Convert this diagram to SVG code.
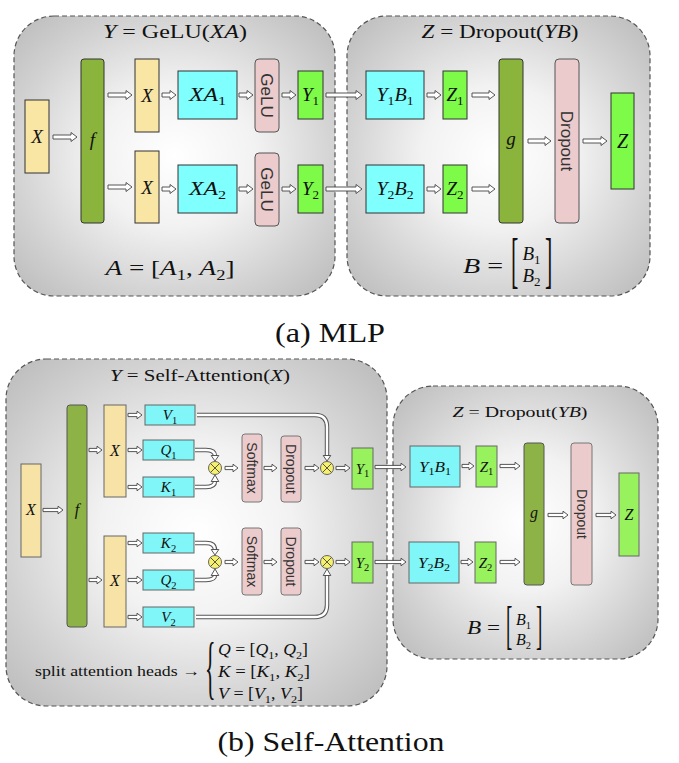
<svg xmlns="http://www.w3.org/2000/svg" width="679" height="763" viewBox="0 0 679 763" font-family="Liberation Serif, serif">
<defs>
<radialGradient id="bg" cx="0.5" cy="0.5" r="0.72">
<stop offset="0" stop-color="#ffffff"/>
<stop offset="0.35" stop-color="#f2f2f2"/>
<stop offset="0.7" stop-color="#d2d2d2"/>
<stop offset="1" stop-color="#b8b8b8"/>
</radialGradient>
<style>
.panel{fill:url(#bg);stroke:#555;stroke-width:1.2;stroke-dasharray:5 3}
.be{fill:#F9E5A4;stroke:#333;stroke-width:1}
.ol{fill:#8AB43B;stroke:#333;stroke-width:1}
.cy{fill:#80FFFF;stroke:#333;stroke-width:1}
.pk{fill:#EBCBCB;stroke:#555;stroke-width:1}
.lm{fill:#7DFB48;stroke:#333;stroke-width:1}
.be2{fill:#F7E3A6;stroke:#666;stroke-width:1}
.ol2{fill:#8DB347;stroke:#555;stroke-width:1}
.cy2{fill:#80F6F8;stroke:#666;stroke-width:1}
.pk2{fill:#EBCBCB;stroke:#777;stroke-width:1}
.lm2{fill:#98F25E;stroke:#666;stroke-width:1}
.arr{fill:#fff;stroke:#444;stroke-width:0.9}
.dl{fill:none;stroke:#555;stroke-width:4.4}
.dw{fill:none;stroke:#fff;stroke-width:2.4}
.ot{fill:#F6F06A;stroke:#666;stroke-width:1}
.ox{stroke:#555;stroke-width:1}
.t{font-family:'Liberation Serif',serif;fill:#111}
.i{font-style:italic}
.s{font-family:'Liberation Sans',sans-serif;fill:#333}
.sb{font-size:13px;font-style:normal}
.sb2{font-size:10.5px;font-style:normal}
</style>
</defs>

<g id="panels">
<rect class="panel" x="14" y="16" width="321" height="280" rx="40"/>
<rect class="panel" x="347" y="16" width="303" height="280" rx="40"/>
<rect class="panel" x="6" y="359" width="381" height="347" rx="40"/>
<rect class="panel" x="393" y="386" width="265" height="273" rx="40"/>
</g>

<g id="connectors">
<path class="arr" d="M53 135 H71 V132.5 L77 137 L71 141.5 V139 H53 Z"/>
<path class="arr" d="M108 93 H126 V90.5 L132 95 L126 99.5 V97 H108 Z"/>
<path class="arr" d="M108 185 H126 V182.5 L132 187 L126 191.5 V189 H108 Z"/>
<path class="arr" d="M162 93 H170 V90.5 L176 95 L170 99.5 V97 H162 Z"/>
<path class="arr" d="M162 187 H170 V184.5 L176 189 L170 193.5 V191 H162 Z"/>
<path class="arr" d="M239 93 H247 V90.5 L253 95 L247 99.5 V97 H239 Z"/>
<path class="arr" d="M239 187 H247 V184.5 L253 189 L247 193.5 V191 H239 Z"/>
<path class="arr" d="M282 93 H290 V90.5 L296 95 L290 99.5 V97 H282 Z"/>
<path class="arr" d="M282 187 H290 V184.5 L296 189 L290 193.5 V191 H282 Z"/>
<path class="arr" d="M326 93 H356 V90.5 L362 95 L356 99.5 V97 H326 Z"/>
<path class="arr" d="M326 187 H356 V184.5 L362 189 L356 193.5 V191 H326 Z"/>
<path class="arr" d="M427 93 H435 V90.5 L441 95 L435 99.5 V97 H427 Z"/>
<path class="arr" d="M427 187 H435 V184.5 L441 189 L435 193.5 V191 H427 Z"/>
<path class="arr" d="M472 93 H489 V90.5 L495 95 L489 99.5 V97 H472 Z"/>
<path class="arr" d="M472 187 H489 V184.5 L495 189 L489 193.5 V191 H472 Z"/>
<path class="arr" d="M528 139 H545 V136.5 L551 141 L545 145.5 V143 H528 Z"/>
<path class="arr" d="M583 139 H601 V136.5 L607 141 L601 145.5 V143 H583 Z"/>

<path class="arr" d="M43 508.4 H58 V506.2 L63 510 L58 513.8 V511.6 H43 Z"/>
<path class="arr" d="M89 448.4 H97 V446.2 L102 450 L97 453.8 V451.6 H89 Z"/>
<path class="arr" d="M89 578.4 H97 V576.2 L102 580 L97 583.8 V581.6 H89 Z"/>
<path class="arr" d="M128 413.4 H137 V411.2 L142 415 L137 418.8 V416.6 H128 Z"/>
<path class="arr" d="M128 448.4 H137 V446.2 L142 450 L137 453.8 V451.6 H128 Z"/>
<path class="arr" d="M128 485.4 H137 V483.2 L142 487 L137 490.8 V488.6 H128 Z"/>
<path class="arr" d="M128 541.4 H137 V539.2 L142 543 L137 546.8 V544.6 H128 Z"/>
<path class="arr" d="M128 578.4 H137 V576.2 L142 580 L137 583.8 V581.6 H128 Z"/>
<path class="arr" d="M128 615.4 H137 V613.2 L142 617 L137 620.8 V618.6 H128 Z"/>
<path class="arr" d="M225 466.4 H233 V464.2 L238 468 L233 471.8 V469.6 H225 Z"/>
<path class="arr" d="M225 560.4 H233 V558.2 L238 562 L233 565.8 V563.6 H225 Z"/>
<path class="arr" d="M264 466.4 H272 V464.2 L277 468 L272 471.8 V469.6 H264 Z"/>
<path class="arr" d="M264 560.4 H272 V558.2 L277 562 L272 565.8 V563.6 H264 Z"/>
<path class="arr" d="M305 466.4 H314 V464.2 L319 468 L314 471.8 V469.6 H305 Z"/>
<path class="arr" d="M305 560.4 H314 V558.2 L319 562 L314 565.8 V563.6 H305 Z"/>
<path class="arr" d="M336 466.4 H345 V464.2 L350 468 L345 471.8 V469.6 H336 Z"/>
<path class="arr" d="M336 560.4 H345 V558.2 L350 562 L345 565.8 V563.6 H336 Z"/>
<path class="arr" d="M375 465.4 H401 V463.2 L406 467 L401 470.8 V468.6 H375 Z"/>
<path class="arr" d="M375 560.4 H401 V558.2 L406 562 L401 565.8 V563.6 H375 Z"/>
<path class="arr" d="M462 464.4 H469 V462.2 L474 466 L469 469.8 V467.6 H462 Z"/>
<path class="arr" d="M461 560.4 H468 V558.2 L473 562 L468 565.8 V563.6 H461 Z"/>
<path class="arr" d="M500 464.4 H515 V462.2 L520 466 L515 469.8 V467.6 H500 Z"/>
<path class="arr" d="M500 560.4 H515 V558.2 L520 562 L515 565.8 V563.6 H500 Z"/>
<path class="arr" d="M548 513.4 H563 V511.2 L568 515 L563 518.8 V516.6 H548 Z"/>
<path class="arr" d="M596 513.4 H611 V511.2 L616 515 L611 518.8 V516.6 H596 Z"/>

<path class="dl" d="M195 450 H206 Q215 450 215 456"/>
<path class="dw" d="M195 450 H206 Q215 450 215 456"/>
<path class="dl" d="M195 487 H206 Q215 487 215 481"/>
<path class="dw" d="M195 487 H206 Q215 487 215 481"/>
<path class="dl" d="M195 543 H206 Q215 543 215 550"/>
<path class="dw" d="M195 543 H206 Q215 543 215 550"/>
<path class="dl" d="M195 580 H206 Q215 580 215 575"/>
<path class="dw" d="M195 580 H206 Q215 580 215 575"/>
<path class="dl" d="M197 415 H315 Q327 415 327 427 V456"/>
<path class="dw" d="M197 415 H315 Q327 415 327 427 V456"/>
<path class="dl" d="M196 617 H315 Q327 617 327 605 V575"/>
<path class="dw" d="M196 617 H315 Q327 617 327 605 V575"/>
<path class="arr" d="M211.2 455.5 H218.8 L215 461 Z"/>
<path class="arr" d="M211.2 481.5 H218.8 L215 475 Z"/>
<path class="arr" d="M211.2 549.5 H218.8 L215 555 Z"/>
<path class="arr" d="M211.2 575.5 H218.8 L215 569 Z"/>
<path class="arr" d="M323.2 455.5 H330.8 L327 461 Z"/>
<path class="arr" d="M323.2 575.5 H330.8 L327 569 Z"/>
</g>

<!-- (a) MLP -->
<g id="titleA1"><text class="t" x="175" y="38" text-anchor="middle" font-size="18" textLength="144" lengthAdjust="spacingAndGlyphs"><tspan class="i">Y</tspan> = GeLU(<tspan class="i">XA</tspan>)</text></g>
<g id="titleA2"><text class="t" x="500" y="38" text-anchor="middle" font-size="18" textLength="157" lengthAdjust="spacingAndGlyphs"><tspan class="i">Z</tspan> = Dropout(<tspan class="i">YB</tspan>)</text></g>

<g id="a_X"><rect class="be" x="25" y="100" width="24" height="73"/><text class="t i" x="37" y="143" text-anchor="middle" font-size="19">X</text></g>
<g id="a_f"><rect class="ol" x="81" y="59" width="23" height="164" rx="3"/><text class="t i" x="92.5" y="146" text-anchor="middle" font-size="19">f</text></g>
<g id="a_X1"><rect class="be" x="135" y="59" width="24" height="73"/><text class="t i" x="147" y="102" text-anchor="middle" font-size="19">X</text></g>
<g id="a_X2"><rect class="be" x="135" y="151" width="24" height="72"/><text class="t i" x="147" y="194" text-anchor="middle" font-size="19">X</text></g>
<g id="a_XA1"><rect class="cy" x="178" y="71" width="59" height="48"/><text class="t" x="207.5" y="101" text-anchor="middle" font-size="19" textLength="37" lengthAdjust="spacingAndGlyphs"><tspan class="i">XA</tspan><tspan class="sb" dy="4">1</tspan></text></g>
<g id="a_XA2"><rect class="cy" x="178" y="165" width="59" height="48"/><text class="t" x="207.5" y="195" text-anchor="middle" font-size="19" textLength="37" lengthAdjust="spacingAndGlyphs"><tspan class="i">XA</tspan><tspan class="sb" dy="4">2</tspan></text></g>
<g id="a_GeLU1"><rect class="pk" x="255" y="59" width="24" height="73" rx="4"/><text class="s" transform="translate(267,95.5) rotate(90)" x="0" y="6" text-anchor="middle" font-size="17">GeLU</text></g>
<g id="a_GeLU2"><rect class="pk" x="255" y="153" width="24" height="73" rx="4"/><text class="s" transform="translate(267,189.5) rotate(90)" x="0" y="6" text-anchor="middle" font-size="17">GeLU</text></g>
<g id="a_Y1"><rect class="lm" x="298" y="71" width="25" height="48"/><text class="t" x="310.5" y="101" text-anchor="middle" font-size="19"><tspan class="i">Y</tspan><tspan class="sb" dy="4">1</tspan></text></g>
<g id="a_Y2"><rect class="lm" x="298" y="165" width="25" height="48"/><text class="t" x="310.5" y="195" text-anchor="middle" font-size="19"><tspan class="i">Y</tspan><tspan class="sb" dy="4">2</tspan></text></g>
<g id="a_formulaA"><text class="t" x="170" y="275" text-anchor="middle" font-size="22" textLength="129" lengthAdjust="spacingAndGlyphs"><tspan class="i">A</tspan> = [<tspan class="i">A</tspan><tspan font-size="15" dy="5">1</tspan><tspan dy="-5">, </tspan><tspan class="i">A</tspan><tspan font-size="15" dy="5">2</tspan><tspan dy="-5">]</tspan></text></g>

<g id="a_Y1B1"><rect class="cy" x="366" y="71" width="58" height="48"/><text class="t" x="395" y="101" text-anchor="middle" font-size="19" textLength="37" lengthAdjust="spacingAndGlyphs"><tspan class="i">Y</tspan><tspan class="sb" dy="4">1</tspan><tspan class="i" dy="-4">B</tspan><tspan class="sb" dy="4">1</tspan></text></g>
<g id="a_Y2B2"><rect class="cy" x="366" y="165" width="58" height="48"/><text class="t" x="395" y="195" text-anchor="middle" font-size="19" textLength="37" lengthAdjust="spacingAndGlyphs"><tspan class="i">Y</tspan><tspan class="sb" dy="4">2</tspan><tspan class="i" dy="-4">B</tspan><tspan class="sb" dy="4">2</tspan></text></g>
<g id="a_Z1"><rect class="lm" x="443" y="71" width="24" height="48"/><text class="t" x="455" y="101" text-anchor="middle" font-size="19"><tspan class="i">Z</tspan><tspan class="sb" dy="4">1</tspan></text></g>
<g id="a_Z2"><rect class="lm" x="443" y="165" width="24" height="48"/><text class="t" x="455" y="195" text-anchor="middle" font-size="19"><tspan class="i">Z</tspan><tspan class="sb" dy="4">2</tspan></text></g>
<g id="a_g"><rect class="ol" x="499" y="59" width="24" height="164" rx="3"/><text class="t i" x="511" y="145" text-anchor="middle" font-size="19">g</text></g>
<g id="a_Dropout"><rect class="pk" x="555" y="59" width="24" height="164" rx="4"/><text class="s" transform="translate(567,141) rotate(90)" x="0" y="6" text-anchor="middle" font-size="17">Dropout</text></g>
<g id="a_Z"><rect class="lm" x="611" y="93" width="23" height="96"/><text class="t i" x="622.5" y="148" text-anchor="middle" font-size="20">Z</text></g>
<g id="a_formulaB">
<text class="t" x="483" y="273" text-anchor="middle" font-size="21" textLength="40" lengthAdjust="spacingAndGlyphs"><tspan class="i">B</tspan> =</text>
<text class="t" transform="translate(511,281) scale(1,2.8)" font-size="22">[</text>
<text class="t" transform="translate(545,281) scale(1,2.8)" font-size="22">]</text>
<text class="t" x="531.5" y="260" text-anchor="middle" font-size="19"><tspan class="i">B</tspan><tspan class="sb" dy="4">1</tspan></text>
<text class="t" x="531.5" y="282" text-anchor="middle" font-size="19"><tspan class="i">B</tspan><tspan class="sb" dy="4">2</tspan></text>
</g>
<g id="captionA"><text class="t" x="330" y="342" text-anchor="middle" font-size="27" textLength="110" lengthAdjust="spacingAndGlyphs">(a) MLP</text></g>

<!-- (b) Self-Attention -->
<g id="titleB1"><text class="t" x="200" y="381" text-anchor="middle" font-size="17" textLength="180" lengthAdjust="spacingAndGlyphs"><tspan class="i">Y</tspan> = Self-Attention(<tspan class="i">X</tspan>)</text></g>
<g id="titleB2"><text class="t" x="520" y="417" text-anchor="middle" font-size="15.5" textLength="135" lengthAdjust="spacingAndGlyphs"><tspan class="i">Z</tspan> = Dropout(<tspan class="i">YB</tspan>)</text></g>

<g id="b_X"><rect class="be2" x="21" y="464" width="20" height="93"/><text class="t i" x="31" y="515" text-anchor="middle" font-size="16">X</text></g>
<g id="b_f"><rect class="ol2" x="67" y="405" width="20" height="222" rx="3"/><text class="t i" x="77" y="515" text-anchor="middle" font-size="16">f</text></g>
<g id="b_X1"><rect class="be2" x="104" y="405" width="22" height="92"/><text class="t i" x="115" y="456" text-anchor="middle" font-size="16">X</text></g>
<g id="b_X2"><rect class="be2" x="104" y="536" width="22" height="91"/><text class="t i" x="115" y="586" text-anchor="middle" font-size="16">X</text></g>
<g id="b_V1"><rect class="cy2" x="145" y="405" width="50" height="20"/><text class="t" x="170" y="420" text-anchor="middle" font-size="15"><tspan class="i">V</tspan><tspan class="sb2" dy="3.5">1</tspan></text></g>
<g id="b_Q1"><rect class="cy2" x="143" y="440" width="51" height="20"/><text class="t" x="168.5" y="455" text-anchor="middle" font-size="15"><tspan class="i">Q</tspan><tspan class="sb2" dy="3.5">1</tspan></text></g>
<g id="b_K1"><rect class="cy2" x="143" y="477" width="51" height="20"/><text class="t" x="168.5" y="492" text-anchor="middle" font-size="15"><tspan class="i">K</tspan><tspan class="sb2" dy="3.5">1</tspan></text></g>
<g id="b_K2"><rect class="cy2" x="143" y="533" width="51" height="20"/><text class="t" x="168.5" y="548" text-anchor="middle" font-size="15"><tspan class="i">K</tspan><tspan class="sb2" dy="3.5">2</tspan></text></g>
<g id="b_Q2"><rect class="cy2" x="143" y="570" width="51" height="20"/><text class="t" x="168.5" y="585" text-anchor="middle" font-size="15"><tspan class="i">Q</tspan><tspan class="sb2" dy="3.5">2</tspan></text></g>
<g id="b_V2"><rect class="cy2" x="143" y="607" width="51" height="20"/><text class="t" x="168.5" y="622" text-anchor="middle" font-size="15"><tspan class="i">V</tspan><tspan class="sb2" dy="3.5">2</tspan></text></g>
<g id="b_mul1"><circle class="ot" cx="215" cy="468" r="6.5"/><path class="ox" d="M210.4 463.4 L219.6 472.6 M219.6 463.4 L210.4 472.6"/></g>
<g id="b_mul2"><circle class="ot" cx="215" cy="562" r="6.5"/><path class="ox" d="M210.4 557.4 L219.6 566.6 M219.6 557.4 L210.4 566.6"/></g>
<g id="b_Softmax1"><rect class="pk2" x="242" y="434" width="20" height="68" rx="3"/><text class="s" transform="translate(252,468) rotate(90)" x="0" y="5" text-anchor="middle" font-size="14">Softmax</text></g>
<g id="b_Softmax2"><rect class="pk2" x="242" y="528" width="20" height="67" rx="3"/><text class="s" transform="translate(252,561.5) rotate(90)" x="0" y="5" text-anchor="middle" font-size="14">Softmax</text></g>
<g id="b_Dropout1"><rect class="pk2" x="281" y="436" width="20" height="66" rx="3"/><text class="s" transform="translate(291,469) rotate(90)" x="0" y="5" text-anchor="middle" font-size="14">Dropout</text></g>
<g id="b_Dropout2"><rect class="pk2" x="281" y="528" width="20" height="67" rx="3"/><text class="s" transform="translate(291,561.5) rotate(90)" x="0" y="5" text-anchor="middle" font-size="14">Dropout</text></g>
<g id="b_mul3"><circle class="ot" cx="327" cy="468" r="6.5"/><path class="ox" d="M322.4 463.4 L331.6 472.6 M331.6 463.4 L322.4 472.6"/></g>
<g id="b_mul4"><circle class="ot" cx="327" cy="562" r="6.5"/><path class="ox" d="M322.4 557.4 L331.6 566.6 M331.6 557.4 L322.4 566.6"/></g>
<g id="b_Y1"><rect class="lm2" x="352" y="448" width="21" height="41"/><text class="t" x="362.5" y="473.5" text-anchor="middle" font-size="15"><tspan class="i">Y</tspan><tspan class="sb2" dy="3.5">1</tspan></text></g>
<g id="b_Y2"><rect class="lm2" x="352" y="542" width="21" height="41"/><text class="t" x="362.5" y="567.5" text-anchor="middle" font-size="15"><tspan class="i">Y</tspan><tspan class="sb2" dy="3.5">2</tspan></text></g>
<g id="b_split">
<text class="t" x="35" y="676" font-size="15" textLength="165" lengthAdjust="spacingAndGlyphs">split attention heads →</text>
<text class="t" transform="translate(205,691) scale(1,3.2)" font-size="22">{</text>
<text class="t" x="218" y="655" font-size="16" textLength="90" lengthAdjust="spacingAndGlyphs"><tspan class="i">Q</tspan> = [<tspan class="i">Q</tspan><tspan font-size="11" dy="3.5">1</tspan><tspan dy="-3.5">, </tspan><tspan class="i">Q</tspan><tspan font-size="11" dy="3.5">2</tspan><tspan dy="-3.5">]</tspan></text>
<text class="t" x="218" y="677" font-size="16" textLength="92" lengthAdjust="spacingAndGlyphs"><tspan class="i">K</tspan> = [<tspan class="i">K</tspan><tspan font-size="11" dy="3.5">1</tspan><tspan dy="-3.5">, </tspan><tspan class="i">K</tspan><tspan font-size="11" dy="3.5">2</tspan><tspan dy="-3.5">]</tspan></text>
<text class="t" x="218" y="699" font-size="16" textLength="85" lengthAdjust="spacingAndGlyphs"><tspan class="i">V</tspan> = [<tspan class="i">V</tspan><tspan font-size="11" dy="3.5">1</tspan><tspan dy="-3.5">, </tspan><tspan class="i">V</tspan><tspan font-size="11" dy="3.5">2</tspan><tspan dy="-3.5">]</tspan></text>
</g>

<g id="b_Y1B1"><rect class="cy2" x="410" y="446" width="50" height="41"/><text class="t" x="435" y="471.5" text-anchor="middle" font-size="15" textLength="32" lengthAdjust="spacingAndGlyphs"><tspan class="i">Y</tspan><tspan class="sb2" dy="3.5">1</tspan><tspan class="i" dy="-3.5">B</tspan><tspan class="sb2" dy="3.5">1</tspan></text></g>
<g id="b_Y2B2"><rect class="cy2" x="409" y="542" width="50" height="41"/><text class="t" x="434" y="567.5" text-anchor="middle" font-size="15" textLength="32" lengthAdjust="spacingAndGlyphs"><tspan class="i">Y</tspan><tspan class="sb2" dy="3.5">2</tspan><tspan class="i" dy="-3.5">B</tspan><tspan class="sb2" dy="3.5">2</tspan></text></g>
<g id="b_Z1"><rect class="lm2" x="476" y="446" width="21" height="41"/><text class="t" x="486.5" y="471.5" text-anchor="middle" font-size="15"><tspan class="i">Z</tspan><tspan class="sb2" dy="3.5">1</tspan></text></g>
<g id="b_Z2"><rect class="lm2" x="475" y="542" width="21" height="41"/><text class="t" x="485.5" y="567.5" text-anchor="middle" font-size="15"><tspan class="i">Z</tspan><tspan class="sb2" dy="3.5">2</tspan></text></g>
<g id="b_g"><rect class="ol2" x="524" y="443" width="20" height="142" rx="3"/><text class="t i" x="534" y="518" text-anchor="middle" font-size="16">g</text></g>
<g id="b_Dropout3"><rect class="pk2" x="571" y="443" width="21" height="142" rx="3"/><text class="s" transform="translate(581.5,514) rotate(90)" x="0" y="5" text-anchor="middle" font-size="14">Dropout</text></g>
<g id="b_Z"><rect class="lm2" x="619" y="473" width="20" height="83"/><text class="t i" x="629" y="520" text-anchor="middle" font-size="16">Z</text></g>
<g id="b_formulaB">
<text class="t" x="483.5" y="634" text-anchor="middle" font-size="18" textLength="33" lengthAdjust="spacingAndGlyphs"><tspan class="i">B</tspan> =</text>
<text class="t" transform="translate(506,642.8) scale(1,2.77)" font-size="19">[</text>
<text class="t" transform="translate(536,642.8) scale(1,2.77)" font-size="19">]</text>
<text class="t" x="523.5" y="625" text-anchor="middle" font-size="16"><tspan class="i">B</tspan><tspan class="sb2" dy="3.5">1</tspan></text>
<text class="t" x="523.5" y="645" text-anchor="middle" font-size="16"><tspan class="i">B</tspan><tspan class="sb2" dy="3.5">2</tspan></text>
</g>
<g id="captionB"><text class="t" x="331" y="751" text-anchor="middle" font-size="27" textLength="227" lengthAdjust="spacingAndGlyphs">(b) Self-Attention</text></g>
</svg>
